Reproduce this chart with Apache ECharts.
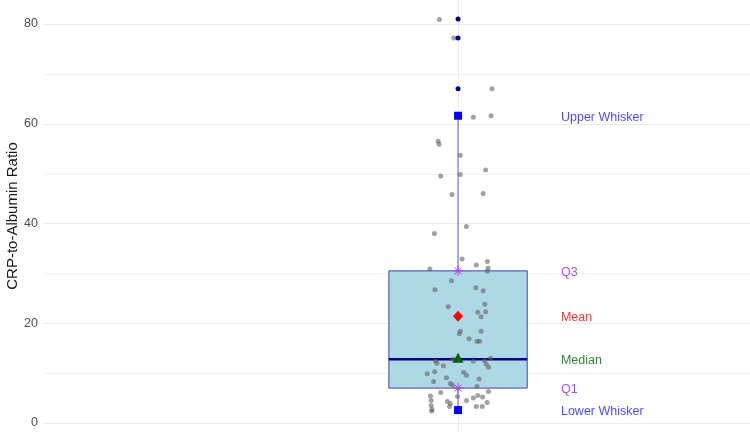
<!DOCTYPE html>
<html><head><meta charset="utf-8">
<script src="https://cdn.jsdelivr.net/npm/echarts@6/dist/echarts.min.js"></script>
<style>html,body{margin:0;padding:0;background:#fff}#c{width:750px;height:439px}</style>
</head><body><div id="c"></div>
<script>
// ---- data ----
const yTicks = [0, 20, 40, 60, 80];
const yMinorTicks = [10, 30, 50, 70];
// horizontal jitter offsets (x units, box centred at 1) and values of the raw points
const jitterX = [-0.101,-0.023,0.184,0.083,0.179,-0.108,-0.103,0.012,0.150,-0.094,
  0.012,-0.033,0.136,0.045,-0.128,0.022,0.159,0.099,0.163,0.159,
  -0.153,-0.036,-0.125,0.096,0.136,0.145,-0.053,0.107,0.150,0.125,
  0.012,0.007,0.125,0.060,0.103,0.117,-0.122,-0.114,-0.079,-0.030,
  0.083,0.144,0.177,0.153,0.166,-0.167,-0.127,0.030,0.046,-0.063,
  -0.133,0.114,-0.042,-0.030,0.103,-0.094,-0.003,0.165,0.107,0.083,
  0.133,0.046,-0.150,-0.146,-0.058,-0.042,-0.046,0.158,0.099,0.131,
  -0.146,-0.141,-0.143];
const ratioValues = [80.9,77.2,67.0,61.3,61.6,56.5,55.9,53.7,50.7,49.5,
  49.8,45.8,46.0,39.4,38.0,32.9,32.4,31.7,31.1,30.4,
  30.9,28.5,26.7,27.1,26.5,23.8,23.3,22.2,22.3,21.3,
  18.4,17.9,18.4,16.9,16.4,16.4,12.4,12.0,11.5,12.8,
  12.4,12.5,13.0,11.8,11.2,9.9,10.3,10.2,9.6,9.1,
  8.3,8.8,7.9,7.6,7.3,6.1,5.3,6.3,5.5,5.0,
  5.2,4.5,5.4,4.5,4.3,3.9,3.3,4.1,3.3,3.3,
  3.5,2.7,2.4];
const outliers = [81.0, 77.2, 67.0];
const statLabels = ['Upper Whisker', 'Q3', 'Mean', 'Median', 'Q1', 'Lower Whisker'];
const statValues = [61.6, 30.5, 21.4, 12.8, 7.0, 2.6];

// ---- layout / style ----
const boxX = 1, boxHalf = 0.375, labelX = 1.558;
const FONT = '"Liberation Sans", Arial, sans-serif';
const labelColors = {'Upper Whisker':'#1a1aff','Q3':'#a020f0','Mean':'#ff0000','Median':'#006400','Q1':'#a020f0','Lower Whisker':'#1a1aff'};
const stat = {};
statLabels.forEach((l, i) => stat[l] = statValues[i]);

const chart = echarts.init(document.getElementById('c'), null, {renderer: 'canvas'});
const asterisk = 'path://M0,5L10,5M5,0L5,10M1.5,1.5L8.5,8.5M8.5,1.5L1.5,8.5';

function segment(stroke, width) {
  return function (params, api) {
    const a = api.coord([api.value(0), api.value(1)]);
    const b = api.coord([api.value(2), api.value(3)]);
    return {type: 'line', shape: {x1: a[0], y1: a[1], x2: b[0], y2: b[1]},
      style: {stroke: stroke, lineWidth: width}};
  };
}
function hGrid(stroke) {
  return function (params, api) {
    const y = Math.round(api.coord([0, api.value(0)])[1]) + 0.5;
    const cs = params.coordSys;
    return {type: 'line', shape: {x1: cs.x, y1: y, x2: cs.x + cs.width, y2: y},
      style: {stroke: stroke, lineWidth: 1}};
  };
}

const option = {
  animation: false,
  backgroundColor: '#ffffff',
  grid: {left: 44, right: 0, top: 0, bottom: 7, containLabel: false, outerBoundsMode: 'none'},
  xAxis: {type: 'value', min: -1.245, max: 2.583, show: true,
    axisLine: {show: false}, axisTick: {show: false}, axisLabel: {show: false}, splitLine: {show: false}},
  yAxis: {type: 'value', min: -1.8, max: 84.8, splitNumber: 4,
    axisLine: {show: false}, axisTick: {show: false},
    axisLabel: {color: '#4d4d4d', fontSize: 12.5, fontFamily: FONT, margin: 6,
      showMinLabel: true, showMaxLabel: true, customValues: yTicks},
    splitLine: {show: false}, minorSplitLine: {show: false},
    name: 'CRP-to-Albumin Ratio', nameLocation: 'middle', nameGap: 24, nameMoveOverlap: false,
    nameTextStyle: {color: '#1a1a1a', fontSize: 15, fontFamily: FONT}},
  series: [
    { type: 'custom', z: 0, silent: true, data: yMinorTicks.map(v => [v]), renderItem: hGrid('#f2f2f2') },
    { type: 'custom', z: 0, silent: true, data: yTicks.map(v => [v]), renderItem: hGrid('#ebebeb') },
    { // vertical grid line at the category position
      type: 'custom', z: 0, silent: true,
      data: [[boxX]],
      renderItem: function (params, api) {
        const x = Math.round(api.coord([api.value(0), 0])[0]) + 0.5;
        const cs = params.coordSys;
        return {type: 'line', shape: {x1: x, y1: cs.y, x2: x, y2: cs.y + cs.height},
          style: {stroke: '#ebebeb', lineWidth: 1}};
      }
    },
    { // whiskers
      type: 'custom', z: 1, silent: true,
      data: [[boxX, stat['Q3'], boxX, stat['Upper Whisker']], [boxX, stat['Q1'], boxX, stat['Lower Whisker']]],
      renderItem: segment('#6a5acd', 1)
    },
    { // box
      type: 'custom', z: 2, silent: true,
      data: [[boxX, stat['Q1'], stat['Q3']]],
      renderItem: function (params, api) {
        const p1 = api.coord([api.value(0) - boxHalf, api.value(2)]);
        const p2 = api.coord([api.value(0) + boxHalf, api.value(1)]);
        return {type: 'rect', shape: {x: p1[0], y: p1[1], width: p2[0] - p1[0], height: p2[1] - p1[1]},
          style: {fill: '#add8e6', stroke: '#4040b0', lineWidth: 1}};
      }
    },
    { // median line
      type: 'custom', z: 3, silent: true,
      data: [[boxX - boxHalf, stat['Median'], boxX + boxHalf, stat['Median']]],
      renderItem: segment('#000080', 2.5)
    },
    { // jittered raw points
      type: 'scatter', z: 4, symbol: 'circle', symbolSize: 5, silent: true,
      itemStyle: {color: 'rgba(100,100,100,0.6)', opacity: 1},
      data: ratioValues.map((v, i) => [boxX + jitterX[i], v])
    },
    { // outliers
      type: 'scatter', z: 5, symbol: 'circle', symbolSize: 5, silent: true,
      itemStyle: {color: '#000080', opacity: 1},
      data: outliers.map(v => [boxX, v])
    },
    { // whisker ends
      type: 'scatter', z: 6, symbol: 'rect', symbolSize: 8, silent: true,
      itemStyle: {color: '#0000ff', opacity: 1},
      data: [[boxX, stat['Upper Whisker']], [boxX, stat['Lower Whisker']]]
    },
    { // quartiles
      type: 'scatter', z: 6, symbol: asterisk, symbolSize: 10, silent: true,
      itemStyle: {color: 'none', borderColor: '#b040ff', borderWidth: 1, opacity: 1},
      data: [[boxX, stat['Q3']], [boxX, stat['Q1']]]
    },
    { // mean
      type: 'scatter', z: 6, symbol: 'diamond', symbolSize: [10, 11], silent: true,
      itemStyle: {color: '#ff0000', opacity: 1},
      data: [[boxX, stat['Mean']]]
    },
    { // median marker
      type: 'scatter', z: 6, symbol: 'triangle', symbolSize: [11, 10], symbolOffset: [0, -1.5], silent: true,
      itemStyle: {color: '#006400', opacity: 1},
      data: [[boxX, stat['Median']]]
    },
    { // text labels
      type: 'scatter', z: 7, symbolSize: 0, silent: true,
      data: statLabels.map((l, i) => ({
        value: [labelX, statValues[i]], name: l,
        label: {show: true, position: 'right', distance: 0, formatter: l,
          color: labelColors[l], fontSize: 12.5, fontFamily: FONT, offset: [0, 1.5]}
      }))
    }
  ]
};
chart.setOption(option);
</script></body></html>
